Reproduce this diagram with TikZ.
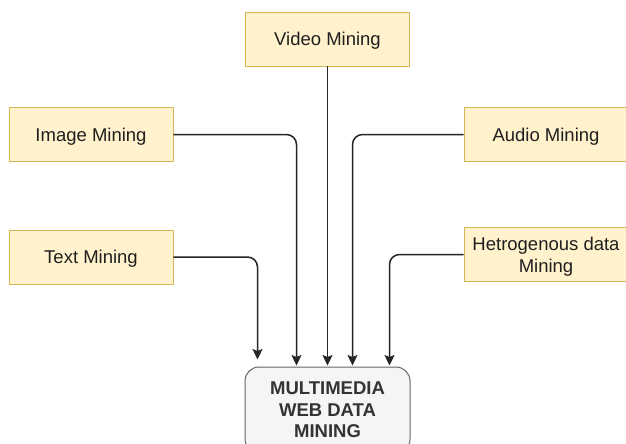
\documentclass[tikz,border=0pt]{standalone}
\usepackage{fontspec}
\setmainfont{Liberation Sans}
\usetikzlibrary{arrows.meta,calc}
\definecolor{yfill}{HTML}{FFF2CC}
\definecolor{ydraw}{HTML}{D6B656}
\definecolor{gfill}{HTML}{F5F5F5}
\definecolor{gdraw}{HTML}{666666}
\definecolor{gtext}{HTML}{333333}
\tikzset{
  ybox/.style={draw=ydraw, fill=yfill, minimum width=164pt, minimum height=54pt,
    inner sep=0pt, align=center, font=\fontsize{18.5}{22}\selectfont, text=black!88,
    line width=0.9pt, text depth=0pt},
  cbox/.style={draw=gdraw, fill=gfill, minimum width=165pt, minimum height=86pt,
    inner sep=0pt, align=center, rounded corners=14pt, line width=1pt,
    font=\fontsize{18.5}{21.5}\selectfont\bfseries, text=gtext},
  conn/.style={draw=black!85, line width=1.5pt, rounded corners=10pt,
    -{Stealth[length=10.5pt,width=10pt,inset=2pt]}}
}
\begin{document}
\begin{tikzpicture}[x=1pt,y=-1pt]
\fill[white] (0,0) rectangle (626,444);
\useasboundingbox (0,0) rectangle (626,444);
\node[ybox] (vid) at (327.5,39) {Video Mining};
\node[ybox] (img) at (91,134.5) {Image Mining};
\node[ybox] (aud) at (546,134.5) {Audio Mining};
\node[ybox] (txt) at (91,257) {Text Mining};
\node[ybox] (het) at (546,254.5) {Hetrogenous data\\Mining};
\node[cbox] (c) at (327.5,410) {MULTIMEDIA\\WEB DATA\\MINING};
\coordinate (e1) at ($(c.north west)+(13,-7)$);
\coordinate (e2) at ($(c.north west)+(52,-1)$);
\coordinate (e4) at ($(c.north west)+(108,-1)$);
\coordinate (e5) at ($(c.north west)+(145,-1)$);
\draw[conn] (txt.east) -| (e1);
\draw[conn] (img.east) -| (e2);
\draw[conn] (vid.south) -- ($(c.north)+(0,-1)$);
\draw[conn] (aud.west) -| (e4);
\draw[conn] (het.west) -| (e5);
\end{tikzpicture}
\end{document}
